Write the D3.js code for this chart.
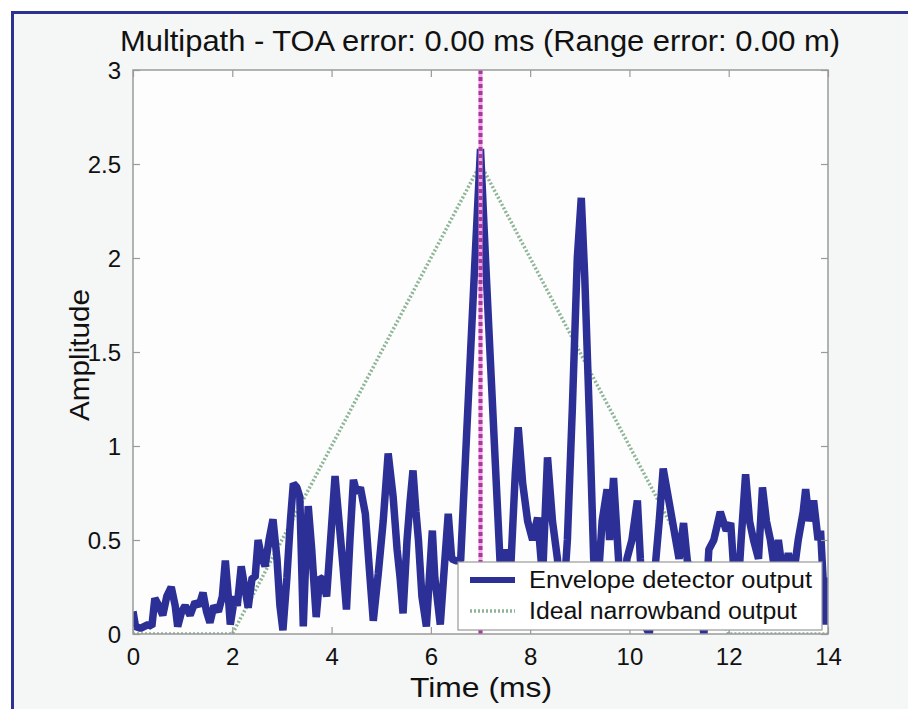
<!DOCTYPE html>
<html>
<head>
<meta charset="utf-8">
<script src="https://cdn.jsdelivr.net/npm/d3@7/dist/d3.min.js"></script>
<style>
  body { margin: 0; background: #ffffff; }
  text { font-family: "Liberation Sans", Arial, sans-serif; fill: #111; }
</style>
</head>
<body>
<script>
// envelope detector output (time in ms, amplitude)
var envTime = [0.0, 0.05, 0.15, 0.3, 0.38, 0.44, 0.52, 0.6, 0.68, 0.77, 0.85, 0.9, 0.98, 1.05, 1.15, 1.25, 1.33, 1.41, 1.48, 1.55, 1.63, 1.72, 1.8, 1.86, 1.92, 1.96,
  2.05, 2.1, 2.18, 2.25, 2.32, 2.4, 2.46, 2.52, 2.58, 2.66, 2.74, 2.82, 2.9, 2.96, 3.02, 3.1, 3.17, 3.23, 3.3, 3.36, 3.43, 3.48, 3.53, 3.6, 3.69, 3.76, 3.83, 3.9, 3.98,
  4.07, 4.15, 4.23, 4.3, 4.37, 4.44, 4.51, 4.58, 4.68, 4.76, 4.84, 4.94, 5.04, 5.14, 5.24, 5.32, 5.38, 5.44, 5.52, 5.58, 5.64, 5.7, 5.75, 5.82, 5.91, 5.97,
  6.03, 6.08, 6.19, 6.27, 6.35, 6.42, 6.5, 6.6, 6.7, 6.8, 6.9, 7.0, 7.1, 7.2, 7.3, 7.4, 7.45, 7.5, 7.6, 7.7, 7.76, 7.85, 7.95,
  8.05, 8.15, 8.25, 8.35, 8.45, 8.55, 8.65, 8.75, 8.85, 8.95, 9.03, 9.1, 9.2, 9.28, 9.35, 9.45, 9.55, 9.6, 9.68, 9.78, 9.85, 9.95,
  10.05, 10.16, 10.22, 10.3, 10.4, 10.5, 10.6, 10.68, 10.8, 10.9, 11.0, 11.09, 11.2, 11.3, 11.4, 11.5, 11.6, 11.7, 11.83, 11.95,
  12.04, 12.1, 12.18, 12.25, 12.34, 12.42, 12.5, 12.6, 12.68, 12.76, 12.84, 12.92, 13.0, 13.1, 13.2, 13.3, 13.4, 13.5, 13.55, 13.62, 13.71, 13.8, 13.85, 13.92, 13.96, 14.0];
var envAmp = [0.12, 0.04, 0.03, 0.05, 0.04, 0.19, 0.15, 0.1, 0.2, 0.25, 0.15, 0.04, 0.12, 0.15, 0.1, 0.17, 0.15, 0.22, 0.12, 0.06, 0.15, 0.12, 0.2, 0.39, 0.2, 0.05,
  0.2, 0.15, 0.36, 0.25, 0.14, 0.3, 0.3, 0.5, 0.42, 0.36, 0.5, 0.61, 0.4, 0.15, 0.02, 0.3, 0.6, 0.8, 0.78, 0.73, 0.04, 0.4, 0.68, 0.45, 0.09, 0.3, 0.29, 0.2, 0.5,
  0.84, 0.6, 0.36, 0.13, 0.5, 0.82, 0.75, 0.78, 0.64, 0.35, 0.07, 0.32, 0.6, 0.96, 0.73, 0.45, 0.3, 0.11, 0.5, 0.7, 0.87, 0.65, 0.5, 0.2, 0.04, 0.3,
  0.55, 0.3, 0.05, 0.35, 0.64, 0.4, 0.39, 0.39, 0.95, 1.5, 2.05, 2.58, 2.0, 1.45, 0.9, 0.35, 0.2, 0.45, 0.3, 0.85, 1.1, 0.8, 0.6,
  0.5, 0.62, 0.3, 0.94, 0.6, 0.4, 0.1, 0.5, 1.2, 2.0, 2.32, 1.9, 1.1, 0.4, 0.2, 0.6, 0.77, 0.5, 0.83, 0.4, 0.05, 0.4,
  0.5, 0.71, 0.4, 0.05, 0.0, 0.3, 0.6, 0.88, 0.7, 0.55, 0.4, 0.59, 0.3, 0.1, 0.2, 0.0, 0.45, 0.5, 0.65, 0.55,
  0.59, 0.35, 0.2, 0.5, 0.85, 0.6, 0.5, 0.4, 0.78, 0.6, 0.5, 0.35, 0.5, 0.3, 0.43, 0.3, 0.5, 0.65, 0.77, 0.6, 0.71, 0.5, 0.55, 0.2, 0.05, 0.3];

// ideal narrowband output (triangle)
var idealTime = [0, 2, 7, 12, 14];
var idealAmp = [0, 0, 2.5, 0, 0];

// true time of arrival
var toaTime = 7;

var xTicks = [0, 2, 4, 6, 8, 10, 12, 14];
var yTicks = [0, 0.5, 1, 1.5, 2, 2.5, 3];
var legendLabels = ["Envelope detector output", "Ideal narrowband output"];

var W = 908, H = 709;
var plotL = 133, plotR = 828, plotT = 70, plotB = 634;

var svg = d3.select("body").append("svg")
    .attr("width", W)
    .attr("height", H);

// figure background + blue frame
svg.append("rect")
    .attr("x", 12.5).attr("y", 12.5)
    .attr("width", 1000).attr("height", 1000)
    .attr("fill", "#f5f6f6")
    .attr("stroke", "#2e3192")
    .attr("stroke-width", 3);

var x = d3.scaleLinear().domain([0, 14]).range([plotL, plotR]);
var y = d3.scaleLinear().domain([0, 3]).range([plotB, plotT]);

// axes area
svg.append("rect")
    .attr("x", plotL).attr("y", plotT)
    .attr("width", plotR - plotL).attr("height", plotB - plotT)
    .attr("fill", "#fdfdfd");

svg.append("clipPath").attr("id", "plot")
    .append("rect")
    .attr("x", plotL).attr("y", plotT)
    .attr("width", plotR - plotL).attr("height", plotB - plotT);

var plot = svg.append("g").attr("clip-path", "url(#plot)");

var line = d3.line()
    .x(function (d) { return x(d[0]); })
    .y(function (d) { return y(d[1]); });

// ideal narrowband output (dotted green)
plot.append("path")
    .datum(d3.zip(idealTime, idealAmp))
    .attr("d", line)
    .attr("fill", "none")
    .attr("stroke", "#8db597")
    .attr("stroke-width", 3.5)
    .attr("stroke-dasharray", "2,2");

// envelope detector output
plot.append("path")
    .datum(d3.zip(envTime, envAmp))
    .attr("d", line)
    .attr("fill", "none")
    .attr("stroke", "#2b2f96")
    .attr("stroke-width", 7.5)
    .attr("stroke-linejoin", "bevel");

// TOA marker (magenta dotted)
plot.append("line")
    .attr("x1", x(toaTime)).attr("x2", x(toaTime))
    .attr("y1", y(0)).attr("y2", y(3))
    .attr("stroke", "#f0a8e4")
    .attr("stroke-width", 4);
plot.append("line")
    .attr("x1", x(toaTime)).attr("x2", x(toaTime))
    .attr("y1", y(0)).attr("y2", y(3))
    .attr("stroke", "#a8389e")
    .attr("stroke-width", 4)
    .attr("stroke-dasharray", "4,3");

// axes, MATLAB style: inward ticks on all sides
var axisColor = "#9a9a9a";
var bottomAxis = svg.append("g").attr("transform", "translate(0," + plotB + ")")
    .call(d3.axisBottom(x).tickValues(xTicks).tickSize(-7).tickPadding(14).tickFormat(d3.format("d")));
var topAxis = svg.append("g").attr("transform", "translate(0," + plotT + ")")
    .call(d3.axisTop(x).tickValues(xTicks).tickSize(-7).tickFormat(""));
var leftAxis = svg.append("g").attr("transform", "translate(" + plotL + ",0)")
    .call(d3.axisLeft(y).tickValues(yTicks).tickSize(-7).tickPadding(12).tickFormat(function (d) { return d; }));
var rightAxis = svg.append("g").attr("transform", "translate(" + plotR + ",0)")
    .call(d3.axisRight(y).tickValues(yTicks).tickSize(-7).tickFormat(""));

[bottomAxis, topAxis, leftAxis, rightAxis].forEach(function (g) {
    g.select(".domain").remove();
    g.selectAll("line").attr("stroke", axisColor).attr("stroke-width", 1.2);
    g.selectAll("text").attr("font-size", 24).attr("fill", "#111")
        .style("font-family", "'Liberation Sans', Arial, sans-serif");
});
leftAxis.selectAll("text").attr("dy", "0.36em");

svg.append("rect")
    .attr("x", plotL).attr("y", plotT)
    .attr("width", plotR - plotL).attr("height", plotB - plotT)
    .attr("fill", "none")
    .attr("stroke", axisColor)
    .attr("stroke-width", 1.5);

// legend
var legend = svg.append("g");
legend.append("rect")
    .attr("x", 458).attr("y", 562)
    .attr("width", 364).attr("height", 68)
    .attr("fill", "#ffffff")
    .attr("stroke", axisColor)
    .attr("stroke-width", 1.2);
legend.append("line")
    .attr("x1", 470).attr("x2", 515).attr("y1", 580).attr("y2", 580)
    .attr("stroke", "#2b2f96").attr("stroke-width", 6);
legend.append("line")
    .attr("x1", 470).attr("x2", 515).attr("y1", 611).attr("y2", 611)
    .attr("stroke", "#8db597").attr("stroke-width", 3.5).attr("stroke-dasharray", "2,2");
legend.selectAll("text.lab").data(legendLabels).enter().append("text")
    .attr("class", "lab")
    .attr("x", 529)
    .attr("y", function (d, i) { return 588 + i * 31; })
    .attr("font-size", 23)
    .attr("textLength", function (d, i) { return i === 0 ? 283 : 268; })
    .attr("lengthAdjust", "spacingAndGlyphs")
    .text(function (d) { return d; });

// title and axis labels
svg.append("text")
    .attr("x", 480).attr("y", 51)
    .attr("text-anchor", "middle")
    .attr("font-size", 30)
    .attr("textLength", 720)
    .attr("lengthAdjust", "spacingAndGlyphs")
    .text("Multipath - TOA error: 0.00 ms (Range error: 0.00 m)");

svg.append("text")
    .attr("x", 481).attr("y", 697)
    .attr("text-anchor", "middle")
    .attr("font-size", 28)
    .attr("textLength", 142)
    .attr("lengthAdjust", "spacingAndGlyphs")
    .text("Time (ms)");

svg.append("text")
    .attr("transform", "translate(89,355) rotate(-90)")
    .attr("text-anchor", "middle")
    .attr("font-size", 28)
    .attr("textLength", 132)
    .attr("lengthAdjust", "spacingAndGlyphs")
    .text("Amplitude");
</script>
</body>
</html>
